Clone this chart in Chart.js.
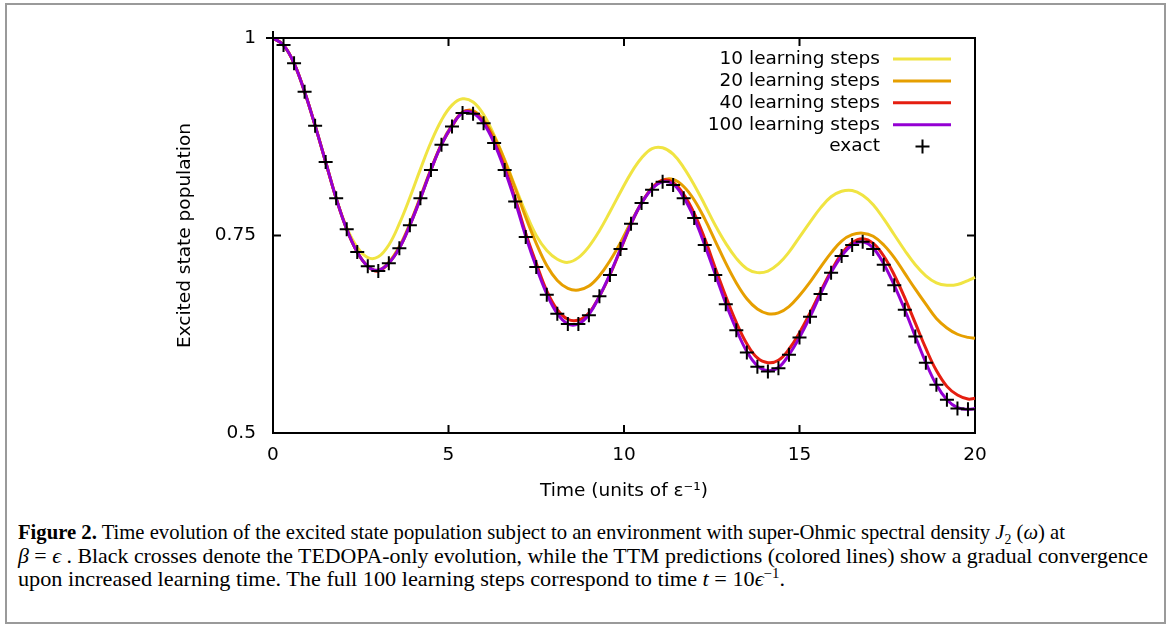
<!DOCTYPE html>
<html><head><meta charset="utf-8">
<script src="https://cdn.jsdelivr.net/npm/chart.js@4.4.1/dist/chart.umd.min.js"></script>
<style>
html,body{margin:0;padding:0;background:#fff;}
body{width:1168px;height:626px;position:relative;overflow:hidden;}
#frame{position:absolute;left:5px;top:3px;width:1157px;height:617px;border:2px solid #9a9a9a;}
#c{position:absolute;left:0;top:0;}
.cap{position:absolute;left:18px;white-space:nowrap;font-family:"Liberation Serif","DejaVu Serif",serif;font-size:21px;line-height:23px;color:#000;transform-origin:0 50%;}
.cap i{font-style:italic;}
.cap sub,.cap sup{font-size:14px;line-height:0;}
</style></head><body>
<div id="frame"></div>
<canvas id="c" width="1168" height="510"></canvas>
<div class="cap" data-w="1047" style="top:521px"><b>Figure 2.</b> Time evolution of the excited state population subject to an environment with super-Ohmic spectral density <i>J</i><sub>2</sub> (<i>ω</i>) at</div>
<div class="cap" data-w="1130" style="top:544.5px"><i>β</i> = <i>ϵ</i> . Black crosses denote the TEDOPA-only evolution, while the TTM predictions (colored lines) show a gradual convergence</div>
<div class="cap" data-w="767" style="top:568px">upon increased learning time. The full 100 learning steps correspond to time <i>t</i> = 10<i>ϵ</i><sup>−1</sup>.</div>
<script>
// ---- data ----
const lineTimes = [0,0.3,0.6,0.9,1.2,1.5,1.8,2.1,2.4,2.7,3.0,3.3,3.6,3.9,4.2,4.5,4.8,5.1,5.4,5.7,6.0,6.3,6.6,6.9,7.2,7.5,7.8,8.1,8.4,8.7,9.0,9.3,9.6,9.9,10.2,10.5,10.8,11.1,11.4,11.7,12.0,12.3,12.6,12.9,13.2,13.5,13.8,14.1,14.4,14.7,15.0,15.3,15.6,15.9,16.2,16.5,16.8,17.1,17.4,17.7,18.0,18.3,18.6,18.9,19.2,19.5,19.8,20];
const exactTimes = [0,0.3,0.6,0.9,1.2,1.5,1.8,2.1,2.4,2.7,3.0,3.3,3.6,3.9,4.2,4.5,4.8,5.1,5.4,5.7,6.0,6.3,6.6,6.9,7.2,7.5,7.8,8.1,8.4,8.7,9.0,9.3,9.6,9.9,10.2,10.5,10.8,11.1,11.4,11.7,12.0,12.3,12.6,12.9,13.2,13.5,13.8,14.1,14.4,14.7,15.0,15.3,15.6,15.9,16.2,16.5,16.8,17.1,17.4,17.7,18.0,18.3,18.6,18.9,19.2,19.5,19.8];

const steps10 = [1.000,0.991,0.968,0.932,0.889,0.843,0.797,0.760,0.735,0.722,0.723,0.738,0.765,0.798,0.834,0.868,0.896,0.915,0.923,0.919,0.903,0.877,0.846,0.812,0.779,0.750,0.731,0.720,0.716,0.722,0.736,0.756,0.780,0.805,0.829,0.848,0.860,0.861,0.853,0.836,0.814,0.789,0.763,0.740,0.721,0.708,0.703,0.705,0.714,0.729,0.748,0.767,0.785,0.799,0.806,0.807,0.801,0.789,0.771,0.751,0.731,0.713,0.699,0.690,0.687,0.688,0.693,0.697];
const steps20 = [1.000,0.991,0.968,0.932,0.889,0.843,0.797,0.758,0.729,0.711,0.706,0.716,0.736,0.765,0.799,0.834,0.866,0.890,0.906,0.908,0.896,0.875,0.845,0.810,0.773,0.740,0.712,0.693,0.683,0.681,0.686,0.699,0.718,0.741,0.767,0.791,0.810,0.820,0.821,0.812,0.795,0.771,0.743,0.715,0.690,0.670,0.657,0.651,0.652,0.660,0.674,0.691,0.710,0.728,0.743,0.751,0.753,0.749,0.738,0.722,0.702,0.682,0.663,0.645,0.633,0.625,0.621,0.620];
const steps40 = [1.000,0.991,0.968,0.932,0.889,0.843,0.797,0.758,0.729,0.711,0.705,0.715,0.734,0.763,0.797,0.833,0.865,0.888,0.906,0.906,0.894,0.869,0.836,0.797,0.753,0.715,0.680,0.656,0.644,0.643,0.652,0.673,0.700,0.732,0.764,0.791,0.810,0.820,0.817,0.802,0.778,0.746,0.709,0.673,0.640,0.613,0.595,0.589,0.592,0.606,0.627,0.652,0.679,0.705,0.727,0.741,0.746,0.740,0.724,0.700,0.671,0.639,0.607,0.579,0.559,0.548,0.543,0.544];
const steps100 = [1.000,0.991,0.968,0.932,0.889,0.843,0.797,0.758,0.729,0.711,0.706,0.715,0.734,0.763,0.797,0.833,0.865,0.889,0.905,0.905,0.892,0.867,0.833,0.793,0.749,0.710,0.676,0.651,0.638,0.638,0.650,0.673,0.701,0.733,0.765,0.791,0.809,0.818,0.815,0.798,0.772,0.738,0.701,0.664,0.631,0.603,0.585,0.579,0.583,0.599,0.621,0.647,0.676,0.703,0.724,0.738,0.742,0.734,0.714,0.687,0.656,0.622,0.589,0.561,0.542,0.532,0.530,0.531];
const exactValues = [1.000,0.991,0.968,0.932,0.889,0.843,0.797,0.758,0.729,0.711,0.705,0.715,0.734,0.763,0.797,0.833,0.865,0.888,0.905,0.904,0.892,0.867,0.833,0.793,0.748,0.710,0.675,0.651,0.638,0.638,0.649,0.673,0.700,0.733,0.765,0.791,0.808,0.818,0.814,0.797,0.772,0.738,0.700,0.663,0.630,0.602,0.584,0.578,0.582,0.599,0.621,0.647,0.676,0.703,0.724,0.738,0.742,0.733,0.713,0.687,0.656,0.622,0.589,0.561,0.542,0.531,0.530];

const seriesLabels = ['10 learning steps','20 learning steps','40 learning steps','100 learning steps','exact'];
const seriesColors = ['#f0e442','#e69f00','#e51e10','#9400d3','#000000'];
const xTickValues = [0,5,10,15,20];
const yTickValues = [0.5,0.75,1];
const xTitle = 'Time (units of ε⁻¹)';
const yTitle = 'Excited state population';

// ---- build chart ----
const FONT = "'DejaVu Sans', sans-serif";
const pts = (xs, ys) => ys.map((y, i) => ({x: xs[i], y}));
const lineSeries = [steps10, steps20, steps40, steps100];

const datasets = lineSeries.map((vals, i) => ({
  label: seriesLabels[i], data: pts(lineTimes, vals),
  borderColor: seriesColors[i], backgroundColor: seriesColors[i],
  borderWidth: 3, pointRadius: 0, tension: 0.4, fill: false, clip: false,
  order: 5 - i
}));
datasets.push({
  label: seriesLabels[4], data: pts(exactTimes, exactValues),
  showLine: false, pointStyle: 'cross', pointRadius: 7, pointBorderWidth: 2,
  pointBorderColor: seriesColors[4], borderColor: seriesColors[4], clip: false, order: 0
});

const framePlugin = {
  id: 'frame',
  beforeDatasetsDraw(chart) {
    const {ctx, chartArea: a, scales: {x, y}} = chart;
    ctx.save();
    ctx.strokeStyle = '#000'; ctx.lineWidth = 2;
    ctx.strokeRect(a.left, a.top, a.right - a.left, a.bottom - a.top);
    const L = 8;
    ctx.beginPath();
    xTickValues.forEach(v => { const px = x.getPixelForValue(v);
      ctx.moveTo(px, a.bottom); ctx.lineTo(px, a.bottom - L);
      ctx.moveTo(px, a.top); ctx.lineTo(px, a.top + L); });
    yTickValues.forEach(v => { const py = y.getPixelForValue(v);
      ctx.moveTo(a.left, py); ctx.lineTo(a.left + L, py);
      ctx.moveTo(a.right, py); ctx.lineTo(a.right - L, py); });
    ctx.stroke();
    ctx.restore();
  }
};

const keyPlugin = {
  id: 'key',
  afterDraw(chart) {
    const {ctx} = chart;
    ctx.save();
    ctx.font = "18.5px 'DejaVu Sans', sans-serif";
    ctx.textAlign = 'right'; ctx.textBaseline = 'middle'; ctx.fillStyle = '#000';
    chart.data.datasets.forEach((ds, i) => {
      const yy = 59 + i * 21.9;
      ctx.fillText(ds.label, 880, yy);
      if (ds.showLine === false) {
        ctx.strokeStyle = '#000'; ctx.lineWidth = 2;
        ctx.beginPath();
        ctx.moveTo(915.5, yy); ctx.lineTo(929.5, yy);
        ctx.moveTo(922.5, yy - 7); ctx.lineTo(922.5, yy + 7);
        ctx.stroke();
      } else {
        ctx.strokeStyle = ds.borderColor; ctx.lineWidth = 3;
        ctx.beginPath(); ctx.moveTo(893, yy); ctx.lineTo(951, yy); ctx.stroke();
      }
    });
    ctx.restore();
  }
};

new Chart(document.getElementById('c'), {
  type: 'line',
  data: {datasets},
  options: {
    responsive: false, animation: false, devicePixelRatio: 1,
    layout: {padding: {left: 0, top: 38, right: 193, bottom: 0}},
    plugins: {legend: {display: false}, tooltip: {enabled: false}},
    scales: {
      x: {type: 'linear', min: 0, max: 20, position: 'bottom',
          afterFit(s) { s.height = 77; },
          afterBuildTicks(s) { s.ticks = xTickValues.map(v => ({value: v})); },
          ticks: {padding: 11, color: '#000', font: {family: FONT, size: 18.5}, maxRotation: 0, autoSkip: false,
                  callback: v => String(v)},
          grid: {display: false, drawTicks: false}, border: {display: false},
          title: {display: true, text: xTitle, color: '#000', font: {family: FONT, size: 18.5}, padding: {top: 0, bottom: 8}}},
      y: {type: 'linear', min: 0.5, max: 1, position: 'left',
          afterFit(s) { s.width = 273; },
          afterBuildTicks(s) { s.ticks = yTickValues.map(v => ({value: v})); },
          ticks: {padding: 17, color: '#000', font: {family: FONT, size: 18.5}, autoSkip: false,
                  callback: v => String(v)},
          grid: {display: false, drawTicks: false}, border: {display: false},
          title: {display: true, text: yTitle, color: '#000', font: {family: FONT, size: 18.5}, padding: {top: 174, bottom: 0}}}
    }
  },
  plugins: [framePlugin, keyPlugin]
});

// fit caption lines to the reference widths
document.querySelectorAll('.cap').forEach(el => {
  const w = el.getBoundingClientRect().width;
  const target = parseFloat(el.dataset.w);
  el.style.transform = 'scaleX(' + (target / w) + ')';
});
</script>
</body></html>
